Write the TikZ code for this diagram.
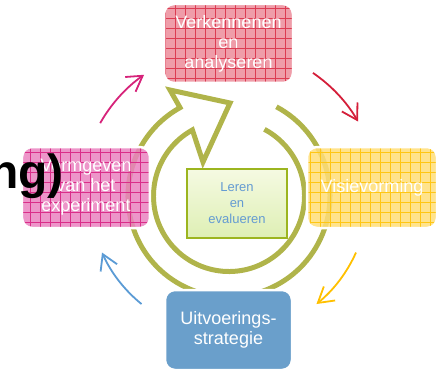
\documentclass[tikz,border=0pt]{standalone}
\usepackage{fontspec}
\setmainfont{Liberation Sans}
\usetikzlibrary{arrows.meta}
\usepackage{xcolor}

\definecolor{ringolive}{RGB}{176,180,74}
\definecolor{redfill}{RGB}{236,140,154}
\definecolor{redgrid}{RGB}{220,60,82}
\definecolor{pinkfill}{RGB}{234,130,192}
\definecolor{pinkgrid}{RGB}{218,45,137}
\definecolor{yellowfill}{RGB}{255,222,120}
\definecolor{yellowgrid}{RGB}{255,198,20}
\definecolor{bluefill}{RGB}{106,159,203}
\definecolor{lerenborder}{RGB}{156,181,31}
\definecolor{lerentop}{RGB}{245,250,226}
\definecolor{lerenbottom}{RGB}{222,239,180}
\definecolor{lerentext}{RGB}{100,155,210}
\definecolor{pinkline}{RGB}{214,35,122}
\definecolor{redline}{RGB}{212,31,58}
\definecolor{yellowline}{RGB}{255,192,0}
\definecolor{blueline}{RGB}{91,155,213}

\begin{document}
\begin{tikzpicture}[
x=1pt, y=1pt,
box/.style={draw=white, line width=2.5pt, rounded corners=10pt, text=white, align=center, font=\fontsize{18}{20}\selectfont},
gridded/.style 2 args={fill=#1, fill opacity=0.85, text opacity=1, path picture={\draw[#2, line width=0.5pt] (path picture bounding box.south west) grid[step=10pt] (path picture bounding box.north east);}},
ring/.style={draw=ringolive, line width=5pt, line join=miter},
arrow/.style={-{Straight Barb[length=15pt, width=18pt]}, line width=1.8pt} ]

\useasboundingbox (-229,-176) rectangle (209,196);
\clip (-229,-176) rectangle (209,196);

% circular arrow round the centre
\draw[ring] (62:101) arc[start angle=62, end angle=-241, radius=101]
  -- (-59,106) -- (1,93) -- (-26,34) -- (119:75.5)
  arc[start angle=119, end angle=422, radius=75.5];

\node[box, gridded={redfill}{redgrid}, minimum width=129pt, minimum height=79pt] (verkennen) at (-0.5,152.5) {Verkennenen\\en\\analyseren};
\node[box, gridded={yellowfill}{yellowgrid}, minimum width=130pt, minimum height=81pt] (visie) at (143,8.5) {Visievorming};
\node[box, fill=bluefill, minimum width=127pt, minimum height=80pt] (uitvoering) at (-0.5,-134) {Uitvoerings-\\strategie};
\node[box, gridded={pinkfill}{pinkgrid}, minimum width=128pt, minimum height=81pt] (vormgeven) at (-143,8.5) {Vormgeven\\van het\\experiment};

\node[draw=lerenborder, line width=2.5pt, top color=lerentop, bottom color=lerenbottom, minimum width=100pt, minimum height=69pt, text=lerentext, align=center, font=\fontsize{13}{16}\selectfont] (leren) at (8,-7.5) {Leren\\en\\evalueren};

% arrows between the steps
\coordinate (pinkstart) at (150.5:148);
\coordinate (redstart) at (55.7:149);
\coordinate (yellowstart) at (-24:139);
\coordinate (bluestart) at (-129:139);

\draw[arrow, pinkline] (pinkstart) arc[start angle=150.5, end angle=125, radius=148];
\draw[arrow, redline] (redstart) arc[start angle=55.7, end angle=30, radius=149];
\draw[arrow, yellowline] (yellowstart) arc[start angle=-24, end angle=-51, radius=139];
\draw[arrow, blueline] (bluestart) arc[start angle=-129, end angle=-156, radius=139];

\node[anchor=base east, inner sep=0pt, font=\fontsize{48}{50}\selectfont\bfseries] (title) at (-165,8) {ng)};

\end{tikzpicture}
\end{document}
